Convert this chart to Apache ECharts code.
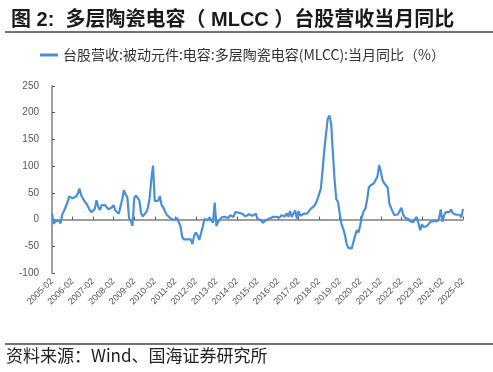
<!DOCTYPE html>
<html>
<head>
<meta charset="utf-8">
<script src="https://cdn.jsdelivr.net/npm/echarts@6/dist/echarts.min.js"></script>
<style>
html,body{margin:0;padding:0;background:#fff;}
#chart{width:493px;height:372px;}
</style>
</head>
<body>
<div id="chart"></div>
<script>
// ---- data ----
var startYear = 2005, startMonth = 2, monthCount = 241;
var seriesName = '台股营收:被动元件:电容:多层陶瓷电容(MLCC):当月同比（%）';
var yTicks = [-100, -50, 0, 50, 100, 150, 200, 250];
// monthly YoY (%), 2005-02 .. 2025-02, one row per 12 months
var yoy = [
  12, -8, -3, -5, -2, -7, 10, 16, 19, 32, 43, 46,
  40, 37, 43, 48, 58, 46, 40, 34, 30, 25, 18, 14,
  14, 20, 36, 24, 18, 27, 29, 27, 23, 19, 16, 23,
  27, 17, 20, 11, 14, 38, 55, 47, 42, 3, -3, -12,
  40, 45, 44, 36, 12, 6, 9, 14, 22, 40, 75, 101,
  35, 33, 35, 44, 27, 23, 15, 9, 11, 3, 4, -1,
  2, 3, 1, -12, -32, -37, -36, -37, -34, -37, -46, -30,
  -24, -30, -38, -36, -14, 1, 4, -1, 4, 1, -6, 32,
  -12, -4, 0, 4, 2, 5, 6, 3, 8, 9, 5, 14,
  17, 13, 12, 11, 8, 6, 5, 10, 9, 7, 5, 11,
  1, -2, -1, -6, -3, -1, 1, 2, 3, 5, 4, 5,
  6, 4, 8, 9, 6, 12, 5, 16, 5, 8, 17, 2,
  16, 7, 8, 11, 10, 11, 14, 20, 23, 25, 30, 38,
  40, 58, 92, 130, 160, 188, 195, 180, 125, 75, 38, 33,
  12, -8, -17, -28, -45, -53, -56, -54, -42, -30, -20, -24,
  -10, 6, 16, 20, 37, 60, 64, 66, 68, 70, 80, 102,
  90, 74, 68, 66, 60, 30, 22, 14, 8, 8, 10, 13,
  22, 10, 4, 3, 1, -3, -6, -5, 1, 5, 3, -20,
  -9, -14, -13, -12, -8, -4, -3, -3, -4, -3, 2, 19,
  -4, 8, 14, 12, 14, 19, 12, 11, 9, 10, 9, 4,
  20
];
var months = [];
for (var i = 0; i < monthCount; i++) {
  var t = (startMonth - 1) + i;
  var y = startYear + Math.floor(t / 12), m = (t % 12) + 1;
  months.push(y + '-' + (m < 10 ? '0' + m : m));
}

var chart = echarts.init(document.getElementById('chart'), null, {renderer: 'canvas'});
var axisColor = '#7f7f7f';
chart.setOption({
  animation: false,
  backgroundColor: '#ffffff',
  title: {
    text: '图 2:  多层陶瓷电容（ MLCC ）台股营收当月同比',
    left: 6, top: 5,
    textStyle: {fontFamily: 'Liberation Sans, Noto Sans CJK SC', fontSize: 20, fontWeight: 'bold', color: '#1a1a1a'}
  },
  legend: {
    left: 40, top: 48, padding: 0,
    icon: 'rect', itemWidth: 18, itemHeight: 3,
    textStyle: {fontFamily: 'Noto Sans CJK SC', fontSize: 14, color: '#333'},
    data: [seriesName]
  },
  grid: {left: 52, right: 30, top: 86, bottom: 99, containLabel: false},
  xAxis: {
    type: 'category', data: months, boundaryGap: false,
    axisLine: {lineStyle: {color: axisColor, width: 1.5}},
    axisTick: {inside: true, length: 3, interval: 11, lineStyle: {color: '#555'}},
    axisLabel: {interval: 11, rotate: 45, fontSize: 9, color: '#555', margin: 7, fontFamily: 'Liberation Sans'},
    splitLine: {show: false}
  },
  yAxis: {
    type: 'value', min: yTicks[0], max: yTicks[yTicks.length - 1], interval: 50,
    axisLine: {show: true, lineStyle: {color: axisColor, width: 1.5}},
    axisTick: {show: true, inside: true, length: 3, lineStyle: {color: '#555'}},
    axisLabel: {fontSize: 10, color: '#555', margin: 13, fontFamily: 'Liberation Sans'},
    splitLine: {show: false}
  },
  series: [{
    name: seriesName, type: 'line', data: yoy, symbol: 'none',
    lineStyle: {color: '#4a90d9', width: 2.2}, itemStyle: {color: '#4a90d9'}
  }],
  graphic: [
    {type: 'line', shape: {x1: 5, y1: 32, x2: 493, y2: 32}, style: {stroke: '#444', lineWidth: 1.5}},
    {type: 'line', shape: {x1: 5, y1: 344, x2: 493, y2: 344}, style: {stroke: '#444', lineWidth: 1.5}},
    {type: 'text', left: 6, top: 347, style: {text: '资料来源：Wind、国海证券研究所', font: '17px "Noto Sans CJK SC"', fill: '#222'}}
  ]
});
</script>
</body>
</html>
